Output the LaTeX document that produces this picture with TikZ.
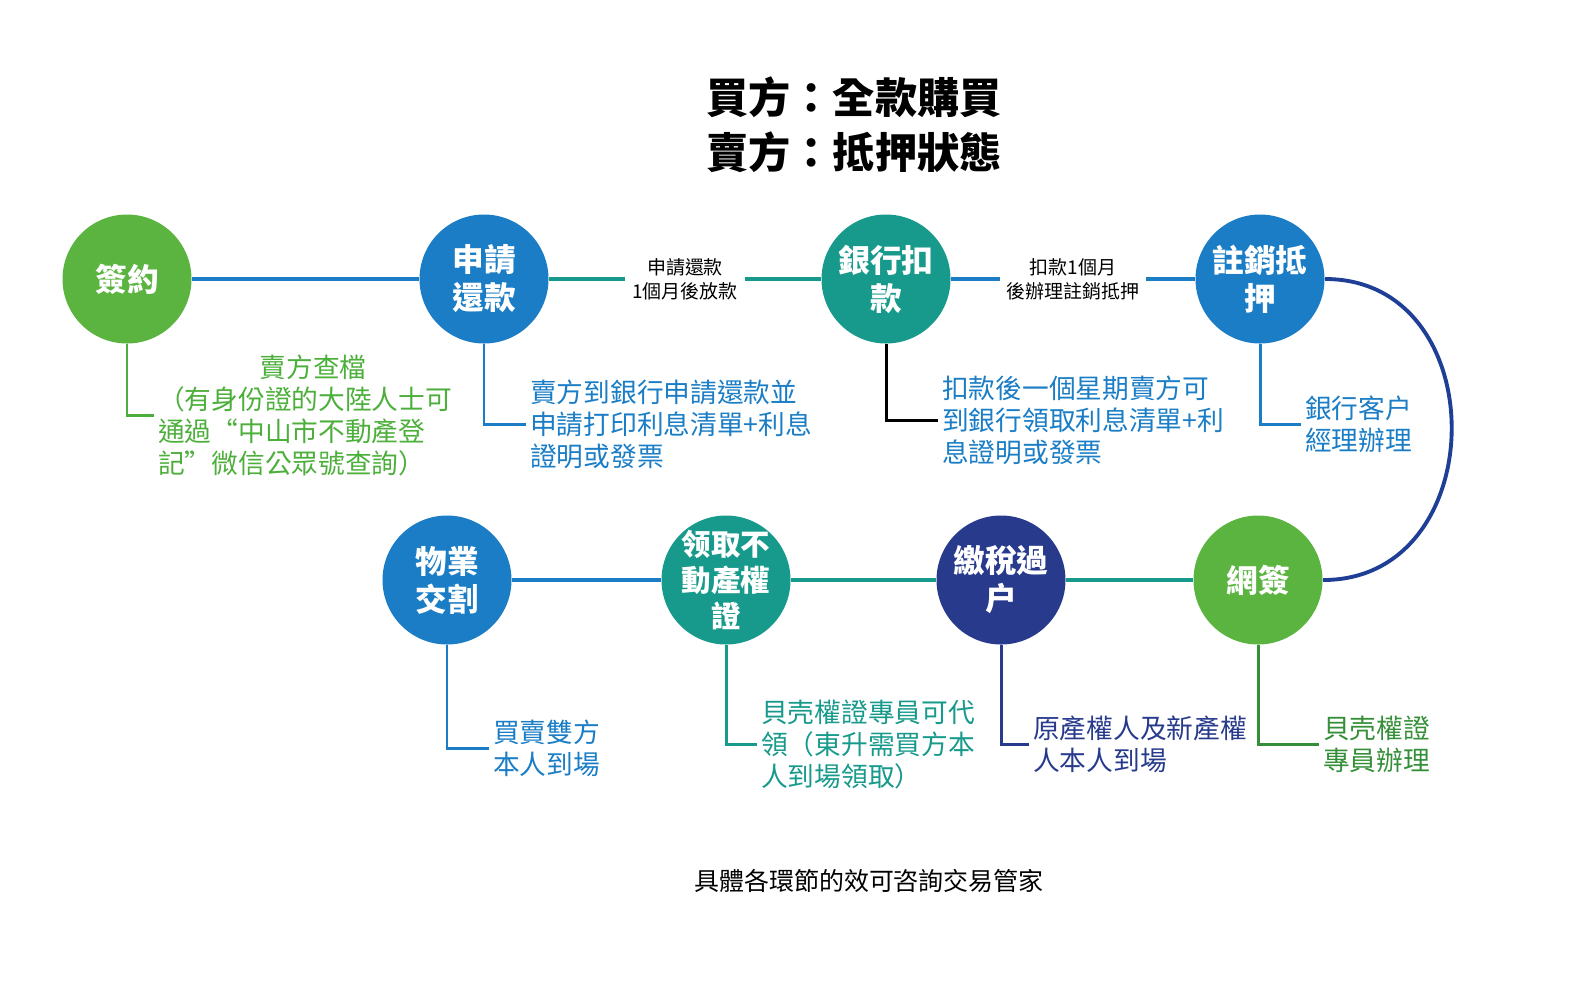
\documentclass[tikz,border=0pt]{standalone}
\usepackage{fontspec}
\setmainfont{Noto Sans CJK TC}
\definecolor{kgreen}{HTML}{5BB440}
\definecolor{ktgreen}{HTML}{4DAF3B}
\definecolor{kdgreen}{HTML}{358F38}
\definecolor{kblue}{HTML}{1A7DC5}
\definecolor{kteal}{HTML}{179A8C}
\definecolor{knavy}{HTML}{273A8C}
\definecolor{karc}{HTML}{1F3F97}

\begin{document}
\begin{tikzpicture}[
    font=\fontsize{7.6pt}{9.1pt}\selectfont,
    stage/.style={circle, minimum size=1.29cm, inner sep=0pt, align=center, text=white,
                  font=\fontsize{9pt}{10.8pt}\selectfont\bfseries},
    edgelbl/.style={fill=white, align=center, inner sep=2pt, font=\fontsize{5.4pt}{6.8pt}\selectfont},
    note/.style={anchor=west, align=left, inner sep=1pt},
    link/.style={line width=1.1pt},
    tick/.style={line width=0.85pt}
]
  \useasboundingbox (0,0) rectangle (15.76,-9.98);

  % ===== titulo =====
  \node[font=\fontsize{12pt}{15.7pt}\selectfont\bfseries, align=center] (title) at (8.54,-1.25)
    {買方：全款購買\\賣方：抵押狀態};

  % ===== etapas =====
  \foreach \id/\x/\y/\c/\t in {sign/1.27/-2.79/kgreen/{簽約},
                               repay/4.84/-2.79/kblue/{申請\\還款},
                               deduct/8.86/-2.79/kteal/{銀行扣\\款},
                               release/12.60/-2.79/kblue/{註銷抵\\押},
                               netsign/12.58/-5.80/kgreen/{網簽},
                               tax/10.01/-5.80/knavy/{繳稅過\\户},
                               handover/4.47/-5.80/kblue/{物業\\交割}} {
    \node[stage, fill=\c] (\id) at (\x,\y) {\t};
  }
  % tres lineas: circulo recortado al mismo tamano
  \node[stage, fill=kteal, inner sep=-2pt, font=\fontsize{8.4pt}{10.2pt}\selectfont\bfseries] (cert) at (7.26,-5.80)
    {领取不\\動產權\\證};

  % ===== conexiones =====
  \draw[link, kblue] (sign) -- (repay);
  \draw[link, kteal] (repay) -- node[edgelbl, text=black] {申請還款\\1個月後放款} (deduct);
  \draw[link, kblue] (deduct) -- node[edgelbl, text=black] {扣款1個月\\後辦理註銷抵押} (release);
  \draw[link, karc] (release.east) .. controls +(1.7,0) and +(1.7,0) .. (netsign.east);
  \draw[link, kteal] (netsign) -- (tax);
  \draw[link, kteal] (tax) -- (cert);
  \draw[link, kblue] (cert) -- (handover);

  % ===== notas =====
  \node[note, text=ktgreen] (signtxt) at (1.54,-4.15)
    {\hspace*{3.8em}賣方查檔\\（有身份證的大陸人士可\\通過“中山市不動產登\\記”微信公眾號查詢）};
  \node[note, text=kblue] (repaytxt) at (5.26,-4.24)
    {賣方到銀行申請還款並\\申請打印利息清單+利息\\證明或發票};
  \node[note, text=kblue] (deducttxt) at (9.38,-4.20)
    {扣款後一個星期賣方可\\到銀行領取利息清單+利\\息證明或發票};
  \node[note, text=kblue] (releasetxt) at (13.01,-4.24)
    {銀行客户\\經理辦理};
  \node[note, text=kdgreen] (netsigntxt) at (13.19,-7.44)
    {貝壳權證\\專員辦理};
  \node[note, text=knavy] (taxtxt) at (10.29,-7.44)
    {原產權人及新產權\\人本人到場};
  \node[note, text=kteal] (certtxt) at (7.57,-7.44)
    {貝壳權證專員可代\\領（東升需買方本\\人到場領取）};
  \node[note, text=kblue] (handovertxt) at (4.89,-7.48)
    {買賣雙方\\本人到場};

  \draw[tick, ktgreen] (sign.south) |- (signtxt.west);
  \draw[tick, kblue] (repay.south) |- (repaytxt.west);
  \draw[tick, black] (deduct.south) |- (deducttxt.west);
  \draw[tick, kblue] (release.south) |- (releasetxt.west);
  \draw[tick, kdgreen] (netsign.south) |- (netsigntxt.west);
  \draw[tick, knavy] (tax.south) |- (taxtxt.west);
  \draw[tick, kteal] (cert.south) |- (certtxt.west);
  \draw[tick, kblue] (handover.south) |- (handovertxt.west);

  \node[font=\fontsize{7.1pt}{8pt}\selectfont] (foot) at (8.69,-8.81) {具體各環節的效可咨詢交易管家};
\end{tikzpicture}
\end{document}
